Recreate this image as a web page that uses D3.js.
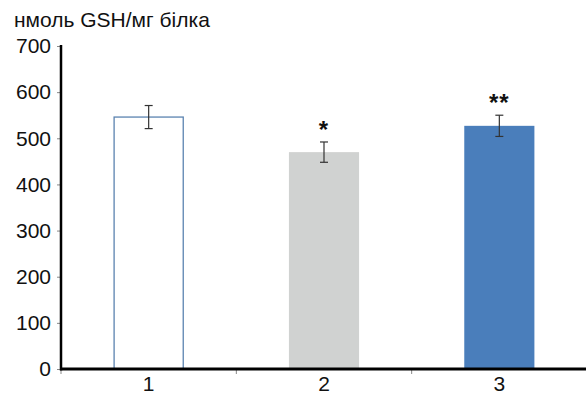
<!DOCTYPE html>
<html>
<head>
<meta charset="utf-8">
<script src="https://cdn.jsdelivr.net/npm/d3@7"></script>
<style>
  body { margin: 0; background: #fff; }
  text { font-family: Arial, "Liberation Sans", sans-serif; }
</style>
</head>
<body>
<svg id="chart" width="586" height="394"></svg>
<script>
// data
const categories = ["1", "2", "3"];
const means = [546, 470, 527];
const errors = [25, 22, 23];
const marks = ["", "*", "**"];
const yTicks = [0, 100, 200, 300, 400, 500, 600, 700];
const yLabel = "нмоль GSH/мг білка";

const fills = ["#ffffff", "#d0d2d1", "#4a7ebb"];
const strokes = ["#5b83b0", "none", "none"];

const svg = d3.select("#chart");
const margin = {top: 46, left: 61, right: 0, bottom: 25};
const innerW = 526;
const innerH = 369 - margin.top;
const fontPx = 21;

const g = svg.append("g")
    .attr("transform", `translate(${margin.left}, ${margin.top})`);

const x = d3.scaleBand().domain(categories).range([0, innerW]).paddingInner(0.6).paddingOuter(0.3);
const y = d3.scaleLinear().domain([0, 700]).range([innerH, 0]);

// bars
g.selectAll(".bar")
    .data(means)
    .enter()
    .append("rect")
    .attr("class", "bar")
    .attr("x", (d, i) => x(categories[i]) + (i == 0 ? 0.5 : 0))
    .attr("y", d => y(d))
    .attr("width", (d, i) => x.bandwidth() - (i == 0 ? 1 : 0))
    .attr("height", d => innerH - y(d))
    .attr("fill", (d, i) => fills[i])
    .attr("stroke", (d, i) => strokes[i])
    .attr("stroke-width", 1.3);

// error bars
const cx = i => x(categories[i]) + x.bandwidth() / 2;
const eb = g.selectAll(".err")
    .data(means)
    .enter()
    .append("g")
    .attr("class", "err")
    .attr("stroke", "#333")
    .attr("stroke-width", 1.2);
eb.append("line")
    .attr("x1", (d, i) => cx(i)).attr("x2", (d, i) => cx(i))
    .attr("y1", (d, i) => y(d + errors[i])).attr("y2", (d, i) => y(d - errors[i]));
eb.append("line")
    .attr("x1", (d, i) => cx(i) - 4).attr("x2", (d, i) => cx(i) + 4)
    .attr("y1", (d, i) => y(d + errors[i])).attr("y2", (d, i) => y(d + errors[i]));
eb.append("line")
    .attr("x1", (d, i) => cx(i) - 4).attr("x2", (d, i) => cx(i) + 4)
    .attr("y1", (d, i) => y(d - errors[i])).attr("y2", (d, i) => y(d - errors[i]));

// significance marks
g.selectAll(".mark")
    .data(marks)
    .enter()
    .append("text")
    .attr("class", "mark")
    .attr("x", (d, i) => cx(i))
    .attr("y", (d, i) => y(means[i] + errors[i]) - 4)
    .attr("text-anchor", "middle")
    .attr("font-size", 24)
    .attr("font-weight", "bold")
    .attr("fill", "#111")
    .attr("letter-spacing", 1)
    .text(d => d);

// y axis
const yAxis = g.append("g")
    .call(d3.axisLeft(y).tickValues(yTicks).tickSize(4).tickPadding(6));
yAxis.select(".domain").remove();
yAxis.selectAll(".tick line").attr("stroke", "#888");
yAxis.selectAll("text").attr("font-size", fontPx).attr("fill", "#111")
    .attr("font-family", "Arial, 'Liberation Sans', sans-serif");
g.append("line")
    .attr("x1", 0).attr("x2", 0)
    .attr("y1", y(700) - 1).attr("y2", innerH + 1.5)
    .attr("stroke", "#000").attr("stroke-width", 2.5);

// x axis: ticks on band boundaries
const bounds = categories.map(c => x(c) - x.step() * x.paddingInner() / 2);
bounds[0] = 0;
const xAxis = g.append("g")
    .attr("transform", `translate(0, ${innerH})`);
xAxis.selectAll(".sep")
    .data(bounds)
    .enter()
    .append("line")
    .attr("x1", d => d).attr("x2", d => d)
    .attr("y1", 0).attr("y2", 5)
    .attr("stroke", "#888");
xAxis.append("line")
    .attr("x1", -1).attr("x2", innerW)
    .attr("stroke", "#000").attr("stroke-width", 3);
xAxis.selectAll(".xlab")
    .data(categories)
    .enter()
    .append("text")
    .attr("x", d => x(d) + x.bandwidth() / 2)
    .attr("y", 22)
    .attr("text-anchor", "middle")
    .attr("font-size", fontPx)
    .attr("fill", "#111")
    .text(d => d);

// axis title
svg.append("text")
    .attr("x", 14)
    .attr("y", 27)
    .attr("font-size", fontPx)
    .attr("fill", "#111")
    .text(yLabel);
</script>
</body>
</html>
